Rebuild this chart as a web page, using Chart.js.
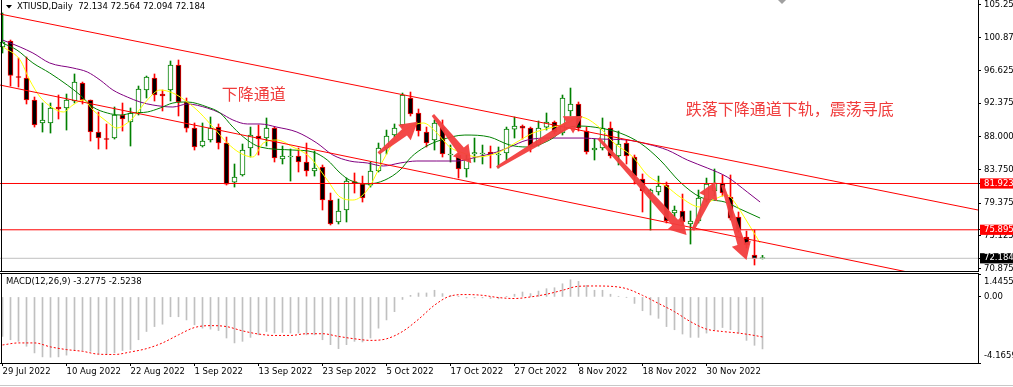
<!DOCTYPE html>
<html>
<head>
<meta charset="utf-8">
<script src="https://cdn.jsdelivr.net/npm/chart.js@4.4.1/dist/chart.umd.min.js"></script>
<style>
  body { margin: 0; background: #fff; }
  #wrap { position: relative; width: 1013px; height: 387px; overflow: hidden; background: #fff; }
  canvas { position: absolute; left: 0; }
</style>
</head>
<body>
<div id="wrap">
  <canvas id="main" width="1013" height="272" style="top:0px"></canvas>
  <canvas id="macd" width="1013" height="115" style="top:272px"></canvas>
</div>
<script>
// XTIUSD daily bars, 29 Jul 2022 .. 9 Dec 2022
const dates = [
  '29 Jul 2022',
  '1 Aug 2022','2 Aug 2022','3 Aug 2022','4 Aug 2022','5 Aug 2022','8 Aug 2022','9 Aug 2022','10 Aug 2022','11 Aug 2022','12 Aug 2022',
  '15 Aug 2022','16 Aug 2022','17 Aug 2022','18 Aug 2022','19 Aug 2022','22 Aug 2022','23 Aug 2022','24 Aug 2022','25 Aug 2022','26 Aug 2022',
  '29 Aug 2022','30 Aug 2022','31 Aug 2022',
  '1 Sep 2022','2 Sep 2022','5 Sep 2022','6 Sep 2022','7 Sep 2022','8 Sep 2022','9 Sep 2022','12 Sep 2022','13 Sep 2022','14 Sep 2022',
  '15 Sep 2022','16 Sep 2022','19 Sep 2022','20 Sep 2022','21 Sep 2022','22 Sep 2022','23 Sep 2022','26 Sep 2022','27 Sep 2022','28 Sep 2022',
  '29 Sep 2022','30 Sep 2022',
  '3 Oct 2022','4 Oct 2022','5 Oct 2022','6 Oct 2022','7 Oct 2022','10 Oct 2022','11 Oct 2022','12 Oct 2022','13 Oct 2022','14 Oct 2022',
  '17 Oct 2022','18 Oct 2022','19 Oct 2022','20 Oct 2022','21 Oct 2022','24 Oct 2022','25 Oct 2022','26 Oct 2022','27 Oct 2022','28 Oct 2022',
  '31 Oct 2022',
  '1 Nov 2022','2 Nov 2022','3 Nov 2022','4 Nov 2022','7 Nov 2022','8 Nov 2022','9 Nov 2022','10 Nov 2022','11 Nov 2022','14 Nov 2022',
  '15 Nov 2022','16 Nov 2022','17 Nov 2022','18 Nov 2022','21 Nov 2022','22 Nov 2022','23 Nov 2022','24 Nov 2022','25 Nov 2022','28 Nov 2022',
  '29 Nov 2022','30 Nov 2022',
  '1 Dec 2022','2 Dec 2022','5 Dec 2022','6 Dec 2022','7 Dec 2022','8 Dec 2022','9 Dec 2022'
];

const open = [
  99.69,100.47,95.78,95.65,92.79,89.80,89.80,91.88,91.75,92.66,
  95.00,92.79,88.62,87.71,87.84,90.84,89.93,91.10,94.09,95.65,
  93.57,94.09,97.35,92.53,89.14,86.80,87.58,89.27,87.19,82.11,
  83.03,86.54,88.10,87.84,89.14,85.11,85.37,85.50,84.72,83.55,
  84.07,79.77,76.91,78.47,82.18,81.85,81.72,83.55,86.54,88.23,
  89.54,93.05,91.10,88.62,87.58,89.27,85.63,85.63,83.81,85.76,
  85.76,86.02,85.63,85.89,89.01,89.40,89.14,86.93,89.27,89.93,
  88.49,91.36,92.27,88.75,86.28,86.54,89.14,85.50,87.19,85.37,
  82.50,80.55,80.81,81.72,78.08,78.34,76.65,77.04,79.77,80.94,
  81.98,80.16,77.56,74.95,72.61,72.134
];
const high = [
  104.12,100.60,98.26,98.39,93.18,92.40,92.40,93.44,93.57,96.18,
  95.13,92.79,91.23,89.67,91.88,92.40,91.75,94.61,95.91,96.18,
  94.09,97.87,98.00,93.05,89.80,89.80,90.58,89.67,87.97,84.46,
  87.06,89.27,89.54,90.45,89.27,86.80,86.41,86.54,87.19,86.15,
  84.33,80.68,79.90,82.63,83.29,82.89,84.72,87.19,88.88,89.67,
  93.70,93.83,91.62,89.27,90.19,90.19,86.93,85.89,85.63,87.84,
  86.93,86.80,86.67,89.27,90.58,89.54,89.27,90.06,91.10,90.06,
  93.44,94.35,92.53,89.27,87.71,90.45,89.93,88.75,87.58,85.63,
  83.16,81.20,82.89,82.11,78.99,80.55,78.34,81.07,82.63,83.81,
  83.03,83.03,78.21,75.73,75.86,72.564
];
const low = [
  98.91,94.61,94.48,92.27,89.27,88.62,88.49,90.32,88.88,92.40,
  92.27,87.45,86.41,86.41,87.71,88.75,86.80,90.84,93.05,92.66,
  91.36,92.66,90.71,88.62,86.28,86.67,87.32,86.41,81.72,81.46,
  82.89,85.37,85.63,86.80,84.72,84.46,82.24,83.42,82.89,82.89,
  78.47,76.52,76.65,76.91,80.68,79.51,81.46,83.42,85.76,87.97,
  89.27,90.71,88.10,86.67,86.28,85.37,84.72,82.63,82.76,84.72,
  84.46,83.94,83.94,84.98,87.84,87.71,86.02,86.80,88.88,88.36,
  88.23,90.71,88.75,85.76,84.98,86.28,85.24,84.33,84.46,81.85,
  78.21,75.86,80.42,76.78,77.56,76.52,74.04,76.78,79.51,80.29,
  80.29,77.17,75.60,73.52,71.31,72.094
];
const close = [
  100.34,95.98,95.72,92.79,89.54,90.19,91.75,91.62,92.79,95.13,
  92.79,88.62,87.84,87.65,90.84,90.32,91.10,94.22,95.78,93.44,
  93.31,97.35,92.53,89.14,86.67,87.45,89.14,87.19,81.85,82.76,
  86.28,88.23,87.71,89.14,85.24,85.50,85.44,84.72,83.55,83.94,
  79.77,76.65,78.34,82.24,81.98,80.03,83.55,86.54,88.10,89.14,
  93.44,90.97,88.75,87.19,89.80,85.76,85.76,83.81,85.11,85.95,
  85.89,85.70,85.76,89.01,89.40,89.14,86.80,89.14,89.93,88.62,
  93.05,92.27,89.14,86.02,86.54,89.14,85.50,87.06,85.50,82.89,
  80.94,81.07,81.59,77.04,78.47,76.91,77.04,80.03,81.85,81.98,
  80.68,77.42,75.86,73.91,72.13,72.184
];

// moving averages (bar index, price)
const yellowIdx = [0.1,2.2,3.4,4.7,6.3,7.6,8.8,10.1,11.3,13.1,14.3,15.6,16.3,18.1,19.7,21.3,23.1,24.7,26.3,28.1,29.7,31.3,32.6,34.3,36.3,38.4,40.6,42.2,43.8,45.6,47.6,49.3,50.9,52.6,54.3,55.9,57.6,59.3,61.8,64.3,66.3,68.4,70.6,72.2,74.7,76.3,78.8,80.6,83.1,84.7,87.2,88.8,90.6,91.3,93.1,94.7];
const yellowVal = [99.69,98.0,95.39,93.18,91.75,91.23,92.14,92.79,91.49,89.93,89.14,89.80,90.45,92.79,94.09,93.70,92.53,91.10,89.27,87.19,85.89,85.37,87.19,87.58,86.67,85.37,82.37,80.16,79.77,81.07,84.98,87.97,89.27,89.80,88.49,86.67,85.89,85.37,85.89,87.32,88.49,89.14,89.80,90.58,89.14,87.32,85.37,83.03,81.46,80.16,78.86,79.77,80.42,79.77,76.91,74.17];
const greenIdx = [0,1.8,3.8,5.9,8.1,9.7,11.3,13.1,14.7,16.3,18.1,19.7,21.3,23.1,25.6,27.2,28.8,30.6,32.2,36.3,38.8,40.6,42.2,43.4,45.6,47.8,49.7,51.1,52.8,54.8,57.8,60.9,63.4,65.6,68.4,70.6,72.2,74.7,77.2,79.7,82.2,84.7,87.2,88.8,90.3,92.2,94.7];
const greenVal = [100.21,99.30,97.61,96.31,94.74,93.44,91.88,91.10,90.84,91.10,91.23,91.75,92.40,92.53,91.88,91.10,89.27,87.58,86.67,86.28,86.02,84.98,83.29,82.37,81.85,82.37,83.68,85.37,86.67,87.58,88.23,87.97,86.93,86.67,87.58,89.14,89.40,89.14,88.49,87.19,84.98,82.11,80.16,79.77,79.51,78.60,77.42];
const purpleIdx = [0,2.2,3.8,5.9,8.8,10.6,12.2,13.8,15.6,17.2,18.8,21.3,23.1,25.6,27.2,28.8,30.6,32.2,34.3,36.8,39.3,41.3,43.4,45.6,47.6,49.7,51.8,54.3,56.8,59.3,61.8,63.4,65.6,68.4,72.6,74.7,78.1,80.6,83.1,85.6,88.1,90.6,93.1,94.7];
const purpleVal = [100.6,99.69,98.91,97.61,96.96,96.44,95.39,94.09,93.18,92.53,92.14,91.88,92.27,91.75,91.10,90.19,89.67,89.67,89.26,88.62,87.19,85.63,84.85,84.59,84.20,84.59,84.85,84.85,84.85,85.37,86.02,86.67,87.58,87.84,87.84,87.71,87.58,87.06,86.28,84.98,83.94,82.76,80.81,79.51];

// MACD(12,26,9)
const macdHist = [
  -2.49,-2.70,-2.80,-3.11,-3.53,-3.78,-3.80,-3.78,-3.67,-3.36,
  -3.38,-3.43,-3.59,-3.59,-3.53,-3.38,-3.32,-2.70,-2.18,-1.87,
  -1.72,-1.25,-1.25,-1.45,-1.76,-1.97,-2.03,-2.12,-2.59,-2.90,
  -2.80,-2.55,-2.39,-2.18,-2.28,-2.24,-2.28,-2.28,-2.39,-2.39,
  -2.70,-3.01,-3.26,-3.01,-2.80,-2.84,-2.59,-1.97,-1.45,-0.93,
  -0.16,0.10,0.25,0.25,0.42,0.21,0.10,0.02,-0.06,-0.06,
  -0.06,-0.10,-0.12,0.02,0.17,0.31,0.21,0.37,0.52,0.58,
  0.83,1.08,0.98,0.73,0.42,0.42,0.17,0.04,-0.02,-0.41,
  -0.87,-1.14,-1.35,-1.87,-2.07,-2.34,-2.55,-2.55,-2.28,-2.07,
  -1.93,-2.07,-2.28,-2.74,-3.05,-3.2775
];
const signalIdx = [0,2,4,6,8,10,12,14,16,18,20,22,24,26,28,30,32,34,36,38,40,42,44,46,48,50,52,54,56,58,60,62,64,66,68,70,72,74,76,78,80,82,84,86,88,90,92,94,95];
const signalVal = [-3.03,-2.90,-2.90,-3.15,-3.32,-3.43,-3.61,-3.63,-3.47,-3.26,-2.90,-2.39,-1.93,-1.81,-1.87,-2.14,-2.34,-2.43,-2.43,-2.32,-2.32,-2.49,-2.64,-2.74,-2.64,-2.18,-1.41,-0.52,0.06,0.15,0.10,-0.04,-0.10,0.0,0.17,0.42,0.67,0.69,0.67,0.52,0.10,-0.41,-0.93,-1.56,-2.03,-2.18,-2.28,-2.43,-2.5238];

// axis ticks
const priceTicks = [105.25, 100.875, 96.625, 92.375, 88.0, 83.75, 79.375, 75.125, 70.875];
const levelRed = [81.923, 75.895];
const dateTickIdx = [0, 8, 16, 24, 32, 40, 48, 56, 64, 72, 80, 88];
const macdTicks = [1.4455, 0, -4.1659];

// drawn objects (bar index / price)
const channelIdx = [-0.31, 121.94];
const channelUpper = [103.99, 78.47];
const channelLower = [94.74, 68.51];
const arrows = [
  [47.0, 85.85, 51.9, 89.96],
  [53.8, 90.84, 58.6, 84.55],
  [61.8, 84.00, 72.5, 90.70],
  [74.5, 87.80, 85.5, 75.21],
  [86.3, 75.86, 89.1, 82.15],
  [90.0, 81.72, 93.0, 71.96]
];
const notes = [
  { text: '下降通道', i: 27.4, p: 93.57 },
  { text: '跌落下降通道下轨，震荡寻底', i: 85.4, p: 91.62 }
];

const BULL = '#008000', BEAR = '#ff0000';
const last = close.length - 1;
const lastPrice = close[last];
const xMin = -0.3125, xMax = 121.9375;
const font = { family: 'DejaVu Sans', size: 8.5 };

Chart.defaults.font.family = 'DejaVu Sans';
Chart.defaults.font.size = 8.5;
Chart.defaults.color = '#000';

const idx = close.map((c, i) => i);
const isBull = idx.map(i => close[i] >= open[i]);
const pts = (xs, ys) => xs.map((x, k) => ({ x: x, y: ys[k] }));

function drawArrow(ctx, x1, y1, x2, y2) {
  const dx = x2 - x1, dy = y2 - y1, len = Math.hypot(dx, dy);
  const ux = dx / len, uy = dy / len, nx = -uy, ny = ux;
  const headL = Math.min(17, len * 0.4), headW = 10, w0 = 1.5, w1 = 4;
  const bx = x2 - ux * headL, by = y2 - uy * headL;
  ctx.beginPath();
  ctx.moveTo(x1 + nx * w0, y1 + ny * w0);
  ctx.lineTo(bx + nx * w1, by + ny * w1);
  ctx.lineTo(bx + nx * headW, by + ny * headW);
  ctx.lineTo(x2, y2);
  ctx.lineTo(bx - nx * headW, by - ny * headW);
  ctx.lineTo(bx - nx * w1, by - ny * w1);
  ctx.lineTo(x1 - nx * w0, y1 - ny * w0);
  ctx.closePath();
  ctx.fill();
}

const mainOverlay = {
  id: 'mainOverlay',
  afterDatasetsDraw(chart) {
    const { ctx, scales: { x, y } } = chart;
    ctx.save();
    ctx.fillStyle = 'rgba(242,62,62,0.95)';
    arrows.forEach(a => drawArrow(ctx,
      x.getPixelForValue(a[0]), y.getPixelForValue(a[1]),
      x.getPixelForValue(a[2]), y.getPixelForValue(a[3])));
    ctx.font = '16px "Noto Sans CJK SC"';
    ctx.fillStyle = '#f03c3c';
    ctx.textBaseline = 'middle';
    notes.forEach(n => ctx.fillText(n.text, x.getPixelForValue(n.i), y.getPixelForValue(n.p)));
    ctx.restore();
  },
  afterDraw(chart) {
    const { ctx, chartArea: a } = chart;
    ctx.save();
    ctx.fillStyle = '#000';
    ctx.fillRect(1, 0, 1, a.bottom);
    ctx.fillRect(0, a.bottom, a.right + 1, 1);
    // header
    ctx.beginPath();
    ctx.moveTo(6, 5); ctx.lineTo(12, 5); ctx.lineTo(9, 8.5); ctx.closePath();
    ctx.fill();
    ctx.font = '8.5px "DejaVu Sans"';
    ctx.textBaseline = 'middle';
    ctx.fillText('XTIUSD,Daily  ' + [open[last], high[last], low[last], close[last]].map(v => v.toFixed(3)).join(' '), 17, 7);
    // chart shift marker
    ctx.fillStyle = '#a0a0a0';
    ctx.beginPath();
    ctx.moveTo(778, 0); ctx.lineTo(786, 0); ctx.lineTo(782, 4); ctx.closePath();
    ctx.fill();
    ctx.restore();
  }
};

const special = v => levelRed.includes(v) || v === lastPrice;

new Chart(document.getElementById('main'), {
  type: 'bar',
  data: {
    datasets: [
      {
        label: 'wick', order: 10, grouped: false, barThickness: 1,
        data: idx.map(i => ({ x: i, y: [low[i], high[i]] })),
        backgroundColor: idx.map(i => isBull[i] ? BULL : BEAR), borderWidth: 0
      },
      {
        label: 'body', order: 9, grouped: false, barThickness: 5, minBarLength: 1,
        data: idx.map(i => ({ x: i, y: [open[i], close[i]] })),
        backgroundColor: idx.map(i => isBull[i] ? '#ffffff' : '#000000'),
        borderColor: idx.map(i => isBull[i] ? BULL : BEAR),
        borderWidth: 1, borderSkipped: false
      },
      { type: 'line', label: 'ma5', order: 5, data: pts(yellowIdx, yellowVal), borderColor: '#ffff00', borderWidth: 1, pointRadius: 0, cubicInterpolationMode: 'monotone' },
      { type: 'line', label: 'ma10', order: 5, data: pts(greenIdx, greenVal), borderColor: '#008000', borderWidth: 1, pointRadius: 0, cubicInterpolationMode: 'monotone' },
      { type: 'line', label: 'ma20', order: 5, data: pts(purpleIdx, purpleVal), borderColor: '#800080', borderWidth: 1, pointRadius: 0, cubicInterpolationMode: 'monotone' },
      { type: 'line', label: 'upper', order: 4, data: pts(channelIdx, channelUpper), borderColor: '#ff0000', borderWidth: 1, pointRadius: 0 },
      { type: 'line', label: 'lower', order: 4, data: pts(channelIdx, channelLower), borderColor: '#ff0000', borderWidth: 1, pointRadius: 0 },
      { type: 'line', label: 'lvl1', order: 4, data: pts(channelIdx, [levelRed[0], levelRed[0]]), borderColor: '#ff0000', borderWidth: 1, pointRadius: 0 },
      { type: 'line', label: 'lvl2', order: 4, data: pts(channelIdx, [levelRed[1], levelRed[1]]), borderColor: '#ff0000', borderWidth: 1, pointRadius: 0 },
      { type: 'line', label: 'bid', order: 6, data: pts(channelIdx, [lastPrice, lastPrice]), borderColor: '#c0c0c0', borderWidth: 1, pointRadius: 0 }
    ]
  },
  options: {
    responsive: false, animation: false, devicePixelRatio: 1,
    layout: { padding: { left: 0, right: 0, top: 0, bottom: 1 } },
    plugins: { legend: { display: false }, tooltip: { enabled: false } },
    scales: {
      x: { type: 'linear', min: xMin, max: xMax, offset: false, display: false, grid: { offset: false } },
      y: {
        position: 'right', min: 70.53, max: 105.81,
        afterBuildTicks: s => { s.ticks = priceTicks.concat(levelRed, [lastPrice]).map(v => ({ value: v })); },
        afterFit: s => { s.width = 35; s.paddingTop = 0; s.paddingBottom = 0; },
        ticks: {
          autoSkip: false, padding: 3, font: font,
          callback: v => v.toFixed(3),
          color: c => special(c.tick.value) ? '#ffffff' : '#000000',
          showLabelBackdrop: c => special(c.tick.value),
          backdropColor: c => c.tick.value === lastPrice ? '#000000' : '#ff0000',
          backdropPadding: { top: 0, bottom: 0, left: 4, right: 6 }
        },
        grid: { drawOnChartArea: false, tickLength: 3, color: '#000' },
        border: { display: true, color: '#000' }
      }
    }
  },
  plugins: [mainOverlay]
});

const macdOverlay = {
  id: 'macdOverlay',
  afterDraw(chart) {
    const { ctx, chartArea: a } = chart;
    ctx.save();
    ctx.fillStyle = '#000';
    ctx.fillRect(0, a.top - 1, a.right + 1, 1);
    ctx.fillRect(1, a.top - 1, 1, a.bottom - a.top + 1);
    ctx.fillStyle = '#c8c8c8';
    ctx.fillRect(0, 113, 1013, 1);
    ctx.fillStyle = '#000';
    ctx.font = '8.5px "DejaVu Sans"';
    ctx.textBaseline = 'middle';
    ctx.fillText('MACD(12,26,9) ' + macdHist[last].toFixed(4) + ' ' + signalVal[signalVal.length - 1].toFixed(4), 6, 10);
    ctx.restore();
  }
};

new Chart(document.getElementById('macd'), {
  type: 'bar',
  data: {
    datasets: [
      { type: 'line', label: 'signal', order: 1, data: pts(signalIdx, signalVal), borderColor: '#ff0000', borderWidth: 1, borderDash: [2, 2], pointRadius: 0, cubicInterpolationMode: 'monotone' },
      { label: 'macd', order: 2, grouped: false, barThickness: 1, data: idx.map(i => ({ x: i, y: macdHist[i] })), backgroundColor: '#c0c0c0', borderWidth: 0 }
    ]
  },
  options: {
    responsive: false, animation: false, devicePixelRatio: 1,
    layout: { padding: { left: 0, right: 0, top: 2, bottom: 0 } },
    plugins: { legend: { display: false }, tooltip: { enabled: false } },
    scales: {
      x: {
        type: 'linear', min: xMin, max: xMax, offset: false, position: 'bottom',
        afterBuildTicks: s => { s.ticks = dateTickIdx.map(v => ({ value: v })); },
        afterFit: s => { s.height = 24; s.paddingLeft = 0; s.paddingRight = 0; },
        ticks: { align: 'start', autoSkip: false, maxRotation: 0, padding: 1, font: font, callback: v => dates[v] },
        grid: { drawOnChartArea: false, offset: false, tickLength: 3, color: '#000' },
        border: { display: true, color: '#000' }
      },
      y: {
        position: 'right', min: -4.1659, max: 1.4455,
        afterBuildTicks: s => { s.ticks = macdTicks.map(v => ({ value: v })); },
        afterFit: s => { s.width = 35; s.paddingTop = 0; s.paddingBottom = 0; },
        ticks: {
          autoSkip: false, padding: 3, font: { family: 'DejaVu Sans', size: 8.5, lineHeight: 1.8 },
          callback: v => v > 0 ? ['', v.toFixed(4)] : (v < 0 ? [v.toFixed(4), ''] : '0.00')
        },
        grid: { drawOnChartArea: false, tickLength: 3, color: '#000' },
        border: { display: true, color: '#000' }
      }
    }
  },
  plugins: [macdOverlay]
});
</script>
</body>
</html>
